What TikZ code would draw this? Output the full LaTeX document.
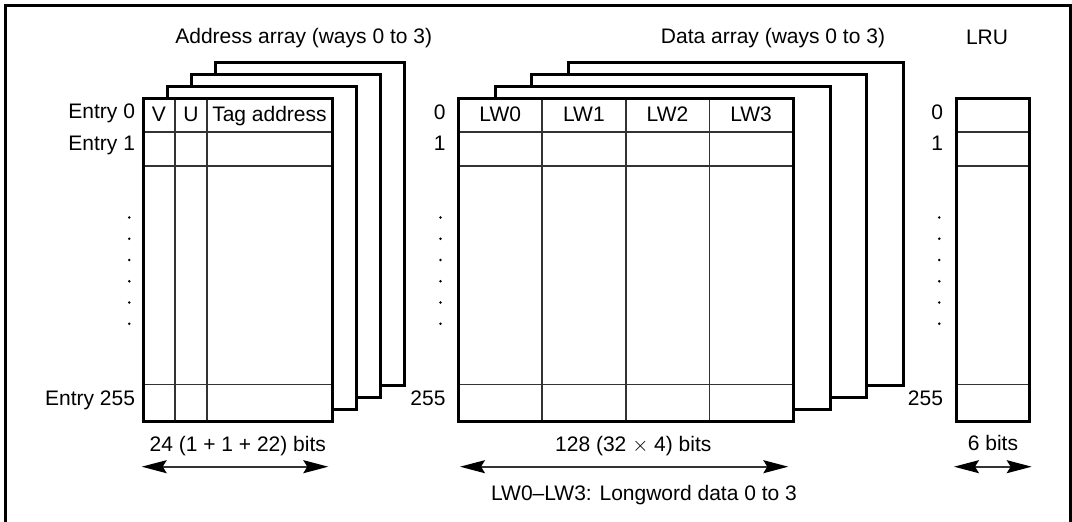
\documentclass[tikz,border=0pt]{standalone}
\usepackage{fontspec}
\setmainfont{Liberation Sans}
\usetikzlibrary{arrows.meta}
\begin{document}
\begin{tikzpicture}[x=1pt,y=-1pt,
  every node/.style={font=\fontsize{21}{24}\selectfont, inner sep=0pt, outer sep=0pt},
  way/.style={draw, line width=3pt, fill=white, rectangle, anchor=north west, inner sep=0pt, outer sep=0pt},
  gridline/.style={line width=1.6pt, draw=black!80},
  dimarrow/.style={line width=1.6pt, draw=black!80,
    {Stealth[length=25pt,width=13pt,inset=4pt,color=black]}-{Stealth[length=25pt,width=13pt,inset=4pt,color=black]}},
  dot/.style={fill=black}
]
\useasboundingbox (0,0) rectangle (1072,522);
\draw[line width=2.4pt] (1070.5,523) -- (1070.5,5.5) -- (5.5,5.5) -- (5.5,523);

% ---------- Address array ----------
\foreach \k in {3,2,1} {
  \node[way, minimum width=189pt, minimum height=323pt] (aw\k) at ({143+24.3*\k},{98-12*\k}) {};
}
\node[way, minimum width=189pt, minimum height=323pt] (a0) at (143,98) {};
\draw[gridline] (a0.west |- 0,132) -- (a0.east |- 0,132);
\draw[gridline] (a0.west |- 0,166) -- (a0.east |- 0,166);
\draw[gridline] (a0.west |- 0,384.5) -- (a0.east |- 0,384.5);
\draw[gridline] (175,0 |- a0.north) -- (175,0 |- a0.south);
\draw[gridline] (207,0 |- a0.north) -- (207,0 |- a0.south);
\draw[line width=3pt] (a0.north west) rectangle (a0.south east);
\node[anchor=base] (v) at (159,121.7) {V};
\node[anchor=base] (u) at (191,121.7) {U};
\node[anchor=base] (tag) at (269.5,121.7) {Tag address};
\node[anchor=base east] (e0) at (135,118.5) {Entry 0};
\node[anchor=base east] (e1) at (135,150.5) {Entry 1};
\node[anchor=base east] (e255) at (135,405) {Entry 255};
\foreach \yy in {217.5,238.7,260,281.3,302.5,323.7} {
  \fill[dot] (129.3,\yy) circle[radius=1.4pt];
}
\node[anchor=base] (atitle) at (303.7,43.5) {Address array (ways 0 to 3)};
\node[anchor=base] (abits) at (237.8,451.7) {24 (1 + 1 + 22) bits};
\coordinate (al) at (141.7,466.7);
\coordinate (ar) at (328.3,466.7);
\draw[dimarrow] (al) -- (ar);

% ---------- Data array ----------
\foreach \k in {3,2,1} {
  \node[way, minimum width=335pt, minimum height=323pt] (dw\k) at ({458.3+36.7*\k},{98-12*\k}) {};
}
\node[way, minimum width=335pt, minimum height=323pt] (d0) at (458.3,98) {};
\draw[gridline] (d0.west |- 0,132) -- (d0.east |- 0,132);
\draw[gridline] (d0.west |- 0,166) -- (d0.east |- 0,166);
\draw[gridline] (d0.west |- 0,384.5) -- (d0.east |- 0,384.5);
\foreach \xx in {542,625.7,709.3} {
  \draw[gridline] (\xx,0 |- d0.north) -- (\xx,0 |- d0.south);
}
\draw[line width=3pt] (d0.north west) rectangle (d0.south east);
\node[anchor=base] (lw0) at (500.2,121.7) {LW0};
\node[anchor=base] (lw1) at (583.9,121.7) {LW1};
\node[anchor=base] (lw2) at (667.5,121.7) {LW2};
\node[anchor=base] (lw3) at (751.1,121.7) {LW3};
\node[anchor=base east] (d0l) at (445.5,119) {0};
\node[anchor=base east] (d1l) at (445.5,150.7) {1};
\node[anchor=base east] (d255l) at (445.5,405) {255};
\foreach \yy in {217.5,238.7,260,281.3,302.5,323.7} {
  \fill[dot] (440.5,\yy) circle[radius=1.4pt];
}
\node[anchor=base] (dtitle) at (773,43.5) {Data array (ways 0 to 3)};
\node[anchor=base] (dbits) at (633.3,451.7) {128 (32 $\times$ 4) bits};
\node[anchor=base] (lwnote) at (644,500.7) {LW0–LW3: Longword data 0 to 3};
\coordinate (dl) at (460,466.7);
\coordinate (dr) at (788.3,466.7);
\draw[dimarrow] (dl) -- (dr);

% ---------- LRU ----------
\node[way, minimum width=73pt, minimum height=323pt] (lru) at (956,98) {};
\draw[gridline] (lru.west |- 0,132) -- (lru.east |- 0,132);
\draw[gridline] (lru.west |- 0,166) -- (lru.east |- 0,166);
\draw[gridline] (lru.west |- 0,384.5) -- (lru.east |- 0,384.5);
\draw[line width=3pt] (lru.north west) rectangle (lru.south east);
\node[anchor=base east] (l0) at (943,119) {0};
\node[anchor=base east] (l1) at (943,150.7) {1};
\node[anchor=base east] (l255) at (943,405) {255};
\foreach \yy in {217.5,238.7,260,281.3,302.5,323.7} {
  \fill[dot] (939.3,\yy) circle[radius=1.4pt];
}
\node[anchor=base] (ltitle) at (987,44) {LRU};
\node[anchor=base] (lbits) at (993,450.7) {6 bits};
\coordinate (ll) at (954,466.7);
\coordinate (lr) at (1031.7,466.7);
\draw[dimarrow] (ll) -- (lr);
\end{tikzpicture}
\end{document}
